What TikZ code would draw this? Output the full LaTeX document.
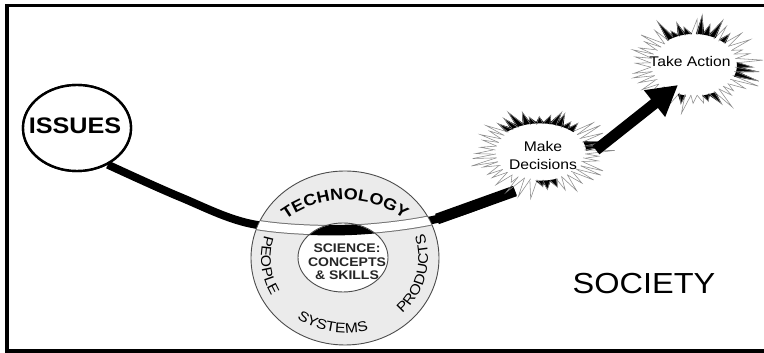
\documentclass[tikz,border=0pt]{standalone}
\usepackage{fontspec}
\setmainfont[FakeStretch=1.12]{Liberation Sans}
\usetikzlibrary{shapes.geometric,arrows.meta,decorations.text,calc}

\tikzset{
  frame/.style={line width=3.6pt},
  bubble/.style={ellipse, draw, line width=2.4pt, fill=white, inner sep=0pt},
  trail/.style={line width=8pt, line cap=butt},
  ringfill/.style={ellipse, fill=gray!16, draw=black!70, line width=0.9pt, inner sep=0pt},
  hubfill/.style={ellipse, fill=white, draw=black!70, line width=0.9pt, inner sep=0pt},
  bandedge/.style={draw=black!55, line width=10.5pt},
  bandbody/.style={draw=white, line width=8.5pt},
  ringlabel/.style={decorate, decoration={text along path, text align=center}},
  spikeline/.style={draw=black!45, line width=0.55pt},
  bigarrow/.style={line width=11pt, -{Triangle[length=30pt,width=32pt]}},
}

% jagged burst: #1 centre, #2 x radius, #3 y radius, #4 seed
\newcommand\spikyburst[4]{%
  \pgfmathsetseed{#4}%
  \begin{scope}[shift={(#1)}]
    \fill[white] (0,0) ellipse [x radius=0.8*#2, y radius=0.8*#3];
    \foreach \k in {0,...,43}{%
      \pgfmathsetmacro\basea{\k*360/44}%
      \pgfmathsetmacro\tipa{\basea+3*rand}%
      \pgfmathsetmacro\tipf{0.97+0.34*rnd}%
      \pgfmathsetmacro\valf{0.76+0.06*rnd}%
      \pgfmathsetmacro\loa{\basea-4.1}%
      \pgfmathsetmacro\hia{\basea+4.1}%
      \pgfmathsetmacro\pick{rnd}%
      \pgfmathtruncatemacro\dark{(((\basea>45 && \basea<135) && \pick<0.8) || ((\basea>340 || \basea<20) && \pick<0.6) || ((\basea>250 && \basea<295) && \pick<0.45)) ? 1 : 0}%
      \ifnum\dark=1
        \fill[black] (\loa-1.5:{0.8*#2} and {0.8*#3}) -- (\tipa:{\tipf*#2} and {\tipf*#3}) -- (\hia+1.5:{0.8*#2} and {0.8*#3}) -- cycle;
      \fi
      \draw[spikeline] (\loa:{\valf*#2} and {\valf*#3}) -- (\tipa:{\tipf*#2} and {\tipf*#3}) -- (\hia:{\valf*#2} and {\valf*#3});
    }%
  \end{scope}%
}

\begin{document}
\begin{tikzpicture}[x=1pt,y=1pt]
\useasboundingbox (0,0) rectangle (764,353);
\fill[white] (0,0) rectangle (764,353);
\draw[frame] (7,2) rectangle (775,347.5);

% issue bubble (placed first so the trail can start on its rim)
\node[bubble, minimum width=108pt, minimum height=86pt] (issues) at (77,225) {};

% trail points
\coordinate (c0) at (issues.-50);
\coordinate (m1) at (180,156);
\coordinate (c1) at (252,129);
\coordinate (c2) at (345,123);
\coordinate (c3) at (437,134);
\coordinate (c4) at (515,162);

\draw[trail] plot[smooth, tension=0.55] coordinates {(c0) (m1) (c1) (c2) (c3) (c4)};
\draw[line width=11pt] (c3) -- (c4);

% bubble on top of trail end
\node[bubble, minimum width=108pt, minimum height=86pt] at (issues) {};
\node[font=\bfseries\fontsize{22.5}{24}\selectfont] at ([shift={(-2,2)}]issues.center) {ISSUES};

% technology ring
\node[ringfill, minimum width=188pt, minimum height=174pt] (ring) at (345,95) {};
\begin{scope}
  \clip (ring.center) ellipse [x radius=93.5, y radius=86.5];
  \draw[bandedge] plot[smooth, tension=0.55] coordinates {(c0) (m1) (c1) (c2) (c3) (c4)};
  \draw[bandbody] plot[smooth, tension=0.55] coordinates {(c0) (m1) (c1) (c2) (c3) (c4)};
\end{scope}
\node[hubfill, minimum width=90pt, minimum height=69pt] (science) at (343,95.5) {};
\begin{scope}
  \clip (science.center) ellipse [x radius=44.5, y radius=34];
  \draw[line width=10.5pt] plot[smooth, tension=0.55] coordinates {(c0) (m1) (c1) (c2) (c3) (c4)};
\end{scope}
\node[font=\bfseries\fontsize{12.5}{13.5}\selectfont, align=center, text=black!85]
  at ([shift={(4,-4.5)}]science.center) {SCIENCE:\\CONCEPTS\\\& SKILLS};

% ring labels
\path[ringlabel, decoration={text={|\bfseries\fontsize{16}{16}\selectfont|TECHNOLOGY}}]
  ([shift={(128:100)}]ring.center |- 0,53) arc[start angle=128, end angle=52, radius=100];
\path[ringlabel, decoration={text={|\fontsize{14}{14}\selectfont|PEOPLE}}]
  ([shift={(150:84 and 78)}]ring.center) arc[start angle=150, end angle=222, x radius=84, y radius=78];
\path[ringlabel, decoration={text={|\fontsize{14}{14}\selectfont|SYSTEMS}}]
  ([shift={(222:80 and 75)}]ring.center) arc[start angle=222, end angle=298, x radius=80, y radius=75];
\path[ringlabel, decoration={text={|\fontsize{14}{14}\selectfont|PRODUCTS}}]
  ([shift={(-52:83 and 77)}]ring.center) arc[start angle=-52, end angle=24, x radius=83, y radius=77];

% decision and action bursts
\spikyburst{540,201}{58}{36}{11}
\node[font=\fontsize{14}{18}\selectfont, align=center] (mkdec) at (543,197) {Make\\Decisions};
\spikyburst{694,288}{54}{39}{23}
\node[font=\fontsize{14}{16}\selectfont] (takeact) at (690,291) {Take Action};

\coordinate (atail) at (596,203);
\coordinate (atip) at (678,268);
\draw[bigarrow] (atail) -- (atip);

\node[font=\fontsize{29}{30}\selectfont] (society) at (644,69) {SOCIETY};
\end{tikzpicture}
\end{document}
